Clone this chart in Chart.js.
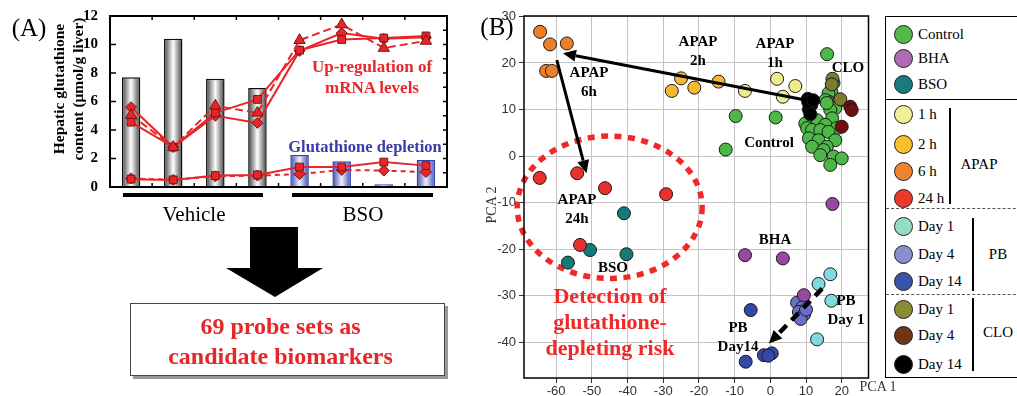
<!DOCTYPE html>
<html>
<head>
<meta charset="utf-8">
<script src="https://cdn.jsdelivr.net/npm/chart.js@4.4.0/dist/chart.umd.min.js"></script>
<style>
  body { margin: 0; width: 1017px; height: 396px; overflow: hidden; background: #fff; position: relative;
         font-family: "Liberation Serif", "DejaVu Serif", serif; color: #000; }
  canvas { position: absolute; top: 0; }
  #cA { left: 0; }
  #cB { left: 480px; }
  .lbl { position: absolute; transform: translate(-50%, -50%); white-space: nowrap; text-align: center; }
  .line { position: absolute; background: #000; }
  #box { position: absolute; left: 130px; top: 303px; width: 315px; height: 73px; border: 1px solid #444;
         box-shadow: 3px 3px 0 #999; display: flex; align-items: center; justify-content: center;
         box-sizing: border-box; padding-right: 14px; padding-top: 2px;
         color: #e8262a; font-weight: bold; font-size: 24px; line-height: 30px; text-align: center; }
  #legend { position: absolute; left: 885px; top: 16px; width: 150px; height: 360px; border: 1.5px solid #000; }
</style>
</head>
<body>
<canvas id="cA" width="460" height="200"></canvas>
<canvas id="cB" width="396" height="396"></canvas>

<svg style="position:absolute;left:0;top:0" width="460" height="396">
  <polygon points="250,227 298,227 298,268 323,268 275,297 226,268 250,268" fill="#000"/>
</svg>
<div id="box">69 probe sets as<br>candidate biomarkers</div>
<div id="legend"></div>

<script>
// ---- panel A: hepatic glutathione (bars) and mRNA levels (lines)
const conditionsA = ['Vehicle 1', 'Vehicle 2', 'Vehicle 3', 'Vehicle 4', 'BSO 1', 'BSO 2', 'BSO 3', 'BSO 4'];
const glutathione = [7.7, 10.4, 7.6, 6.95, 2.25, 1.8, 0.2, 1.9];
const mrnaSquare = [4.55, 2.8, 5.2, 6.15, 9.6, 10.35, 10.45, 10.6];
const mrnaTriangle = [5.05, 2.8, 5.7, 5.2, 10.3, 11.4, 9.75, 10.25];
const mrnaDiamond = [5.6, 2.8, 5.0, 4.5, 9.55, 10.8, 10.4, 10.5];
const lowSquare = [0.55, 0.5, 0.8, 0.85, 1.4, 1.4, 1.75, 1.5];
const lowDiamond = [0.6, 0.5, 0.75, 0.8, 0.9, 1.2, 1.15, 1.05];
const yTicksA = [0, 2, 4, 6, 8, 10, 12];

// ---- panel B: PCA scores
const pcaControl = [[15.9, 21.9], [17.1, 13.8], [17.7, 15.7], [16.3, 13.5], [16.3, 11.7], [15.4, 12.0], [19.1, 11.7],
  [18.2, 10.3], [16.8, 9.9], [15.8, 11.4], [17.3, 8.1], [13.1, 7.7], [9.8, 7.0], [15.4, 6.7], [18.6, 6.0], [10.3, 6.0],
  [11.7, 5.6], [14.0, 5.6], [16.3, 5.2], [10.8, 3.8], [13.5, 3.4], [18.2, 3.4], [11.7, 2.0], [15.8, 2.0], [14.9, 1.3],
  [14.0, 0.2], [17.7, -0.1], [20.0, -0.5], [16.8, -1.9], [-9.7, 8.6], [1.5, 8.3], [-12.5, 1.4]];
const pcaBHA = [[17.4, -10.3], [-7.1, -21.3], [3.5, -22.0], [9.4, -29.9]];
const pcaBSO = [[-41.0, -12.3], [-40.3, -21.1], [-50.5, -20.2], [-56.7, -22.9]];
const pcaApap1h = [[-7.1, 14.0], [1.9, 16.6], [7.0, 15.05], [3.5, 12.75], [11.2, 8.0]];
const pcaApap2h = [[-27.6, 14.0], [-25.0, 16.7], [-21.3, 14.7], [-14.5, 16.0]];
const pcaApap6h = [[-64.5, 26.7], [-61.7, 24.0], [-57.0, 24.2], [-62.8, 18.3], [-61.2, 18.3]];
const pcaApap24h = [[-64.6, -4.7], [-54.1, -3.7], [-46.3, -6.9], [-29.2, -8.2], [-53.3, -19.1]];
const pcaPB1 = [[16.8, -25.4], [13.5, -27.5], [17.1, -31.1], [13.1, -39.4]];
const pcaPB4 = [[7.5, -31.5], [9.0, -32.5], [8.0, -33.5], [9.5, -34.0], [8.5, -35.0], [10.0, -33.0]];
const pcaPB14 = [[-5.5, -33.1], [-6.9, -44.2], [-1.8, -42.8], [0.4, -42.4], [-0.6, -42.9]];
const pcaCLO1 = [[17.4, 16.6], [17.2, 15.4], [19.6, 12.2]];
const pcaCLO4 = [[22.4, 10.6], [22.8, 9.9], [20.0, 6.3]];
const pcaCLO14 = [[10.5, 12.3], [11.5, 11.0], [10.8, 10.0], [11.2, 9.0], [10.6, 11.6], [12.0, 12.0]];

const legendLabels = ['Control', 'BHA', 'BSO', '1 h', '2 h', '6 h', '24 h', 'Day 1', 'Day 4', 'Day 14', 'Day 1', 'Day 4', 'Day 14'];
const legendColors = ['#55b94a', '#ac6cb4', '#1a7a7c', '#f3ef98', '#f8c02c', '#f0842e', '#ea3a2e',
  '#96dcc4', '#8890cc', '#3c54a8', '#8a8c34', '#6e3414', '#000000'];

// top-most first
const pcaSeries = [
  ['CLO Day 14', pcaCLO14, '#000000'],
  ['CLO Day 4', pcaCLO4, '#6e1010'],
  ['CLO Day 1', pcaCLO1, '#7c7c2c'],
  ['BHA', pcaBHA, '#9848a0'],
  ['PB Day 14', pcaPB14, '#3448a8'],
  ['PB Day 4', pcaPB4, '#6a70c8'],
  ['PB Day 1', pcaPB1, '#80d8e0'],
  ['APAP 24 h', pcaApap24h, '#e8302c'],
  ['BSO', pcaBSO, '#127a78'],
  ['APAP 6 h', pcaApap6h, '#ee7f28'],
  ['APAP 2 h', pcaApap2h, '#f6b82c'],
  ['Control', pcaControl, '#4cb847'],
  ['APAP 1 h', pcaApap1h, '#f0ec8c']
];

const red = '#e8262a';
const serif = '"Liberation Serif", "DejaVu Serif", serif';

function barFill(c) {
  const chart = c.chart;
  if (!chart.chartArea) return '#999';
  const x = chart.scales.x.getPixelForValue(c.dataIndex);
  const g = chart.ctx.createLinearGradient(x - 10, 0, x + 10, 0);
  const edge = c.dataIndex < 4 ? '#303030' : '#2c3ca4';
  const mid = c.dataIndex < 4 ? '#ffffff' : '#eef0ff';
  g.addColorStop(0, edge);
  g.addColorStop(0.5, mid);
  g.addColorStop(1, edge);
  return g;
}

function mrnaLine(data, style, radius, dash) {
  return {
    type: 'line', data: data, borderColor: red, borderWidth: 2, borderDash: dash || [],
    pointStyle: style, pointRadius: radius, pointBackgroundColor: red,
    pointBorderColor: '#7a1414', pointBorderWidth: 1, tension: 0
  };
}

const frameA = {
  id: 'frameA',
  afterDraw(chart) {
    const { ctx, chartArea: a, scales } = chart;
    ctx.save();
    ctx.strokeStyle = '#000';
    ctx.lineWidth = 2;
    ctx.strokeRect(a.left, a.top, a.right - a.left, a.bottom - a.top);
    ctx.lineWidth = 1.5;
    for (let v = 0; v <= 12; v++) {
      const y = scales.y.getPixelForValue(v);
      ctx.beginPath();
      if (v % 2 === 0) { ctx.moveTo(a.left, y); ctx.lineTo(a.left + 6, y); }
      ctx.moveTo(a.right, y); ctx.lineTo(a.right - 4, y);
      ctx.stroke();
    }
    const step = (a.right - a.left) / conditionsA.length;
    for (let i = 1; i < conditionsA.length; i++) {
      const x = a.left + i * step;
      ctx.beginPath();
      ctx.moveTo(x, a.top); ctx.lineTo(x, a.top + 4);
      ctx.moveTo(x, a.bottom); ctx.lineTo(x, a.bottom - 4);
      ctx.stroke();
    }
    ctx.restore();
  }
};

new Chart(document.getElementById('cA'), {
  type: 'bar',
  data: {
    labels: conditionsA,
    datasets: [
      mrnaLine(mrnaTriangle, 'triangle', 6.5, [8, 4]),
      mrnaLine(mrnaSquare, 'rect', 5.5),
      mrnaLine(mrnaDiamond, 'rectRot', 5.5),
      mrnaLine(lowSquare, 'rect', 5.5),
      mrnaLine(lowDiamond, 'rectRot', 5.5, [5, 4]),
      {
        type: 'bar', data: glutathione, backgroundColor: barFill,
        borderColor: c => c.dataIndex < 4 ? '#111' : '#3040b0', borderWidth: 1.5,
        barPercentage: 0.44, categoryPercentage: 1.0
      }
    ]
  },
  options: {
    responsive: false, animation: false,
    layout: { padding: { left: 0, top: 16, right: 13, bottom: 13 } },
    plugins: { legend: { display: false }, tooltip: { enabled: false } },
    scales: {
      x: { display: false },
      y: {
        min: 0, max: 12,
        afterFit: s => { s.width = 110; },
        afterBuildTicks: s => { s.ticks = yTicksA.map(v => ({ value: v })); },
        ticks: { font: { family: serif, size: 15, weight: 'bold' }, color: '#000', padding: 4 },
        grid: { display: false }, border: { display: false }
      }
    }
  },
  plugins: [frameA]
});

// ---- panel B
const ellipseB = { cx: -45, cy: -11, rx: 25.9, ry: 15.3 };
const arrowsB = [
  { from: [10.2, 12.0], to: [-58.1, 22.1], width: 3, dash: [] },
  { from: [-59.8, 20.6], to: [-51.5, -3.7], width: 3, dash: [] },
  { from: [14.5, -28.5], to: [-0.4, -40.3], width: 4.5, dash: [10, 7] }
];

function drawArrow(ctx, x1, y1, x2, y2, w, dash) {
  const ang = Math.atan2(y2 - y1, x2 - x1);
  const hl = 13, hw = 6;
  const bx = x2 - hl * Math.cos(ang), by = y2 - hl * Math.sin(ang);
  ctx.setLineDash(dash);
  ctx.lineWidth = w;
  ctx.beginPath(); ctx.moveTo(x1, y1); ctx.lineTo(bx, by); ctx.stroke();
  ctx.setLineDash([]);
  ctx.beginPath();
  ctx.moveTo(x2, y2);
  ctx.lineTo(bx + hw * Math.sin(ang), by - hw * Math.cos(ang));
  ctx.lineTo(bx - hw * Math.sin(ang), by + hw * Math.cos(ang));
  ctx.closePath(); ctx.fill();
}

const overlayB = {
  id: 'overlayB',
  beforeDatasetsDraw(chart) {
    const { ctx, scales: { x, y } } = chart;
    const cx = x.getPixelForValue(ellipseB.cx), cy = y.getPixelForValue(ellipseB.cy);
    const rx = x.getPixelForValue(ellipseB.cx + ellipseB.rx) - cx;
    const ry = cy - y.getPixelForValue(ellipseB.cy + ellipseB.ry);
    ctx.save();
    ctx.strokeStyle = '#f02828';
    ctx.lineWidth = 5.5;
    ctx.setLineDash([7, 6.5]);
    ctx.beginPath(); ctx.ellipse(cx, cy, rx, ry, 0, 0, Math.PI * 2); ctx.stroke();
    ctx.restore();
  },
  afterDatasetsDraw(chart) {
    const { ctx, scales: { x, y } } = chart;
    ctx.save();
    ctx.strokeStyle = '#000'; ctx.fillStyle = '#000';
    arrowsB.forEach(a => drawArrow(ctx, x.getPixelForValue(a.from[0]), y.getPixelForValue(a.from[1]),
      x.getPixelForValue(a.to[0]), y.getPixelForValue(a.to[1]), a.width, a.dash));
    ctx.restore();
  },
  afterDraw(chart) {
    const { ctx, chartArea: a } = chart;
    ctx.save();
    ctx.strokeStyle = '#000'; ctx.lineWidth = 1.5;
    ctx.strokeRect(a.left, a.top, a.right - a.left, a.bottom - a.top);
    ctx.restore();
  }
};

const tens = s => { s.ticks = s.ticks.filter(t => Math.abs(t.value % 10) < 1e-6); };
const tickFontB = { family: '"Liberation Sans", Arial, sans-serif', size: 13 };

new Chart(document.getElementById('cB'), {
  type: 'scatter',
  data: {
    datasets: pcaSeries.map(([label, pts, color]) => ({
      label: label, data: pts.map(p => ({ x: p[0], y: p[1] })),
      backgroundColor: color, borderColor: '#1a1a1a', borderWidth: 1, pointRadius: 6.5
    }))
  },
  options: {
    responsive: false, animation: false,
    layout: { padding: { top: 16, right: 6, left: 0, bottom: 0 } },
    plugins: { legend: { display: false }, tooltip: { enabled: false } },
    scales: {
      x: {
        type: 'linear', min: -69, max: 27.5,
        afterBuildTicks: tens, afterFit: s => { s.height = 18; },
        ticks: { stepSize: 10, includeBounds: false, font: tickFontB, color: '#333', padding: 1, maxRotation: 0 },
        grid: { color: '#c4c4c4', tickColor: '#333', tickLength: 5 }, border: { display: false }
      },
      y: {
        min: -47.7, max: 30.1,
        afterBuildTicks: tens, afterFit: s => { s.width = 44; },
        ticks: { stepSize: 10, includeBounds: false, font: tickFontB, color: '#333', padding: 3 },
        grid: { color: '#c4c4c4', tickColor: '#333', tickLength: 5 }, border: { display: false }
      }
    }
  },
  plugins: [overlayB]
});

// ---- text labels and legend
function label(html, x, y, css) {
  const d = document.createElement('div');
  d.className = 'lbl';
  d.innerHTML = html;
  d.style.left = x + 'px';
  d.style.top = y + 'px';
  Object.assign(d.style, css || {});
  document.body.appendChild(d);
  return d;
}
function bar(x, y, w, h, css) {
  const d = document.createElement('div');
  d.className = 'line';
  Object.assign(d.style, { left: x + 'px', top: y + 'px', width: w + 'px', height: h + 'px' }, css || {});
  document.body.appendChild(d);
}

const bold15 = { fontWeight: 'bold', fontSize: '15px', lineHeight: '19px' };
label('(A)', 29, 28, { fontSize: '25px' });
label('Hepatic glutathione<br>content (&mu;mol/g liver)', 68, 89,
  { fontWeight: 'bold', fontSize: '15.5px', lineHeight: '18.5px', transform: 'translate(-50%,-50%) rotate(-90deg)' });
label('Up-regulation of<br>mRNA levels', 372, 77, { fontWeight: 'bold', fontSize: '17px', lineHeight: '21px', color: red });
label('Glutathione depletion', 365, 147, { fontWeight: 'bold', fontSize: '16.5px', color: '#3a3aa8' });
bar(123, 193, 140, 4);
bar(292, 193, 141, 4);
label('Vehicle', 194, 214, { fontSize: '21px' });
label('BSO', 363, 214, { fontSize: '21px' });

label('(B)', 497, 27, { fontSize: '25px' });
label('APAP<br>6h', 589, 82, bold15);
label('APAP<br>2h', 698, 51, bold15);
label('APAP<br>1h', 775, 53, bold15);
label('CLO', 848, 67, bold15);
label('Control', 769, 142, bold15);
label('APAP<br>24h', 577, 209, bold15);
label('BSO', 613, 267, bold15);
label('BHA', 775, 239, bold15);
label('PB<br>Day 1', 846, 310, bold15);
label('PB<br>Day14', 738, 337, bold15);
label('Detection of<br>glutathione-<br>depleting risk', 610, 322,
  { fontWeight: 'bold', fontSize: '22px', lineHeight: '26px', color: '#f02828' });
label('PCA 2', 492, 205, { fontSize: '14px', color: '#333', transform: 'translate(-50%,-50%) rotate(-90deg)' });
label('PCA 1', 878, 387, { fontSize: '14px', color: '#333' });

const legend = document.getElementById('legend');
const legendRowsY = [33, 57, 83, 113, 143, 170, 197, 225, 253, 280, 308, 334, 363];
legendLabels.forEach((txt, i) => {
  const y = legendRowsY[i] - 16;
  const c = document.createElement('div');
  Object.assign(c.style, { position: 'absolute', left: '8px', top: (y - 9) + 'px', width: '17px', height: '17px',
    borderRadius: '50%', border: '1px solid #222', background: legendColors[i] });
  legend.appendChild(c);
  const t = document.createElement('div');
  t.textContent = txt;
  Object.assign(t.style, { position: 'absolute', left: '32px', top: (y - 9) + 'px', fontSize: '15px', lineHeight: '18px' });
  legend.appendChild(t);
});
function legendLine(css) {
  const d = document.createElement('div');
  Object.assign(d.style, { position: 'absolute' }, css);
  legend.appendChild(d);
}
legendLine({ left: '0', top: (98 - 16) + 'px', width: '100%', borderTop: '1.5px solid #000' });
legendLine({ left: '0', top: (207 - 16) + 'px', width: '100%', borderTop: '1px dashed #555' });
legendLine({ left: '0', top: (293 - 16) + 'px', width: '100%', borderTop: '1px dashed #555' });
legendLine({ left: (948 - 885) + 'px', top: (107 - 16) + 'px', width: '2px', height: '96px', background: '#000' });
legendLine({ left: (971 - 885) + 'px', top: (217 - 16) + 'px', width: '2px', height: '73px', background: '#000' });
legendLine({ left: (971 - 885) + 'px', top: (297 - 16) + 'px', width: '2px', height: '73px', background: '#000' });
[['APAP', 978, 163], ['PB', 997, 253], ['CLO', 997, 331]].forEach(([txt, x, y]) => {
  const t = document.createElement('div');
  t.textContent = txt;
  Object.assign(t.style, { position: 'absolute', left: (x - 885) + 'px', top: (y - 16) + 'px',
    transform: 'translate(-50%,-50%)', fontSize: '15px' });
  legend.appendChild(t);
});
</script>
</body>
</html>
